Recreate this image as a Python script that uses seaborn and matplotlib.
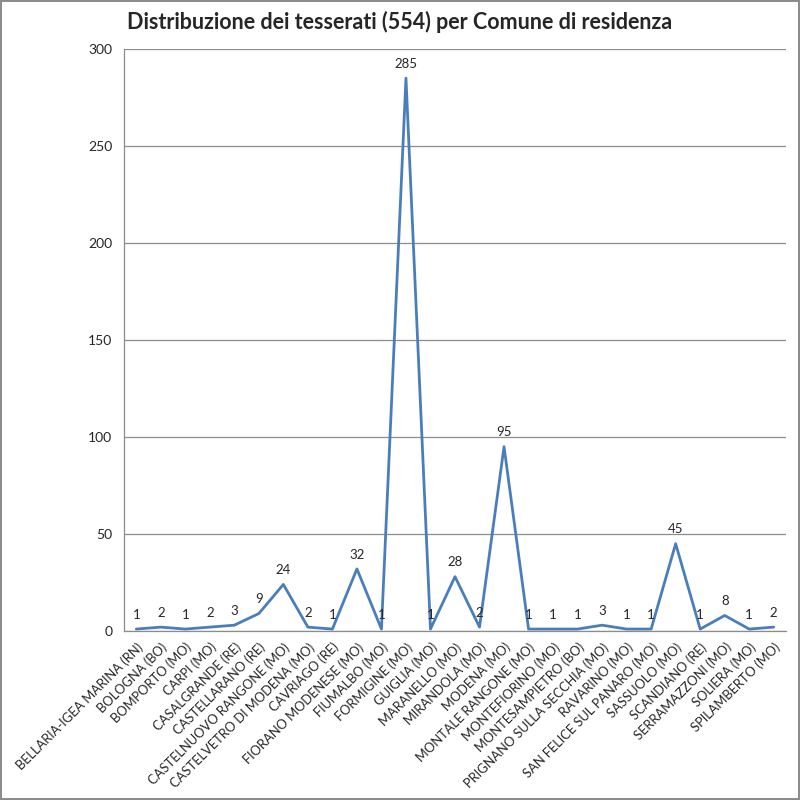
import numpy as np
import pandas as pd
import seaborn as sns
import matplotlib
matplotlib.use("Agg")
import matplotlib.pyplot as plt

comuni = [
    "BELLARIA-IGEA MARINA (RN)", "BOLOGNA (BO)", "BOMPORTO (MO)", "CARPI (MO)",
    "CASALGRANDE (RE)", "CASTELLARANO (RE)", "CASTELNUOVO RANGONE (MO)",
    "CASTELVETRO DI MODENA (MO)", "CAVRIAGO (RE)", "FIORANO MODENESE (MO)",
    "FIUMALBO (MO)", "FORMIGINE (MO)", "GUIGLIA (MO)", "MARANELLO (MO)",
    "MIRANDOLA (MO)", "MODENA (MO)", "MONTALE RANGONE (MO)", "MONTEFIORINO (MO)",
    "MONTESAMPIETRO (BO)", "PRIGNANO SULLA SECCHIA (MO)", "RAVARINO (MO)",
    "SAN FELICE SUL PANARO (MO)", "SASSUOLO (MO)", "SCANDIANO (RE)",
    "SERRAMAZZONI (MO)", "SOLIERA (MO)", "SPILAMBERTO (MO)",
]
tesserati = [1, 2, 1, 2, 3, 9, 24, 2, 1, 32, 1, 285, 1, 28, 2, 95,
             1, 1, 1, 3, 1, 1, 45, 1, 8, 1, 2]
y_ticks = [0, 50, 100, 150, 200, 250, 300]

sns.set_style("white")
plt.rcParams['font.family'] = ['Lato', 'DejaVu Sans']

df = pd.DataFrame({"comune": comuni, "n": tesserati})
df["pos"] = np.arange(len(df))

fig = plt.figure(figsize=(8, 8), dpi=100)
fig.patch.set_edgecolor("#8c8c8c")
fig.patch.set_linewidth(1.5)
ax = fig.add_axes([0.155, 0.21125, 0.8275, 0.7275])

sns.lineplot(data=df, x="pos", y="n", ax=ax, color="#4a7ebb", linewidth=2.0)

for p, v in zip(df["pos"], df["n"]):
    ax.annotate(str(v), (p, v), xytext=(0, 6), textcoords="offset points",
                ha="center", va="bottom", fontsize=9.5)

ax.set_xlim(-0.5, len(df) - 0.5)
ax.set_ylim(0, 300)
ax.set_yticks(y_ticks)
ax.yaxis.grid(True, color="#8c8c8c", linewidth=0.9)
ax.set_axisbelow(True)
ax.set_xticks(df["pos"])
ax.set_xticklabels(comuni, rotation=45, ha="right", rotation_mode="anchor", fontsize=9.3)
ax.set_xticks(np.arange(-0.5, len(df), 1), minor=True)
ax.tick_params(axis="x", which="major", length=0, pad=7)
ax.tick_params(axis="x", which="minor", length=5, color="#8c8c8c", width=0.9)
ax.tick_params(axis="y", length=5, color="#8c8c8c", width=0.9, labelsize=10)
ax.yaxis.set_tick_params(direction="out")
ax.set_xlabel("")
ax.set_ylabel("")
for side in ["top", "right"]:
    ax.spines[side].set_visible(False)
for side in ["left", "bottom"]:
    ax.spines[side].set_color("#8c8c8c")
    ax.spines[side].set_linewidth(0.9)

fig.text(0.5, 0.972, "Distribuzione dei tesserati (554) per Comune di residenza",
         ha="center", va="center", fontsize=15.5, fontweight="bold")

fig.savefig("out.png", dpi=100, edgecolor=fig.get_edgecolor())
